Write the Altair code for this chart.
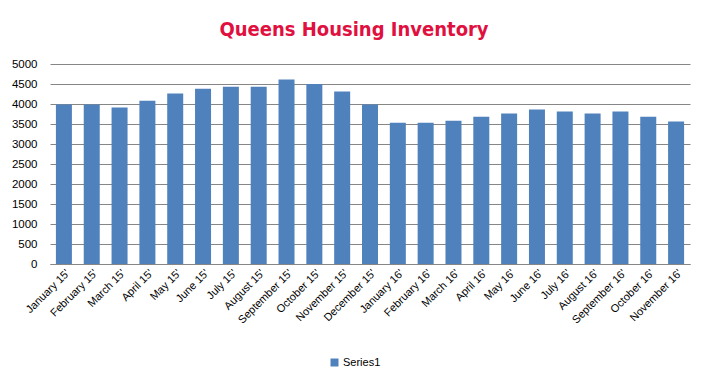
import altair as alt
import pandas as pd

months = ["January 15'", "February 15'", "March 15'", "April 15'", "May 15'", "June 15'",
          "July 15'", "August 15'", "September 15'", "October 15'", "November 15'", "December 15'",
          "January 16'", "February 16'", "March 16'", "April 16'", "May 16'", "June 16'",
          "July 16'", "August 16'", "September 16'", "October 16'", "November 16'"]
inventory = [3990, 3990, 3910, 4080, 4260, 4380, 4430, 4430, 4610, 4500, 4310, 3990,
             3530, 3530, 3580, 3680, 3760, 3860, 3810, 3760, 3810, 3680, 3560]
series = ["Series1"] * len(months)
y_ticks = [0, 500, 1000, 1500, 2000, 2500, 3000, 3500, 4000, 4500, 5000]

df = pd.DataFrame({"month": months, "inventory": inventory, "series": series})

FONT = "Liberation Sans"

chart = alt.Chart(df).mark_bar().encode(
    x=alt.X("month:N", sort=months,
            scale=alt.Scale(paddingInner=0.425, paddingOuter=0.2125),
            axis=alt.Axis(title=None, labelAngle=-45, ticks=False, labelPadding=3,
                          domainColor="#868686", labelFontSize=11, labelFont=FONT,
                          labelColor="#000000", grid=False)),
    y=alt.Y("inventory:Q", scale=alt.Scale(domain=[0, 5000], nice=False),
            axis=alt.Axis(title=None, values=y_ticks, format="d", domain=False, ticks=False,
                          labelPadding=13, gridColor="#868686", labelFontSize=11.5,
                          labelFont=FONT, labelColor="#000000")),
    color=alt.Color("series:N", scale=alt.Scale(range=["#4F81BD"]),
                    legend=alt.Legend(title=None, orient="none", legendX=279, legendY=293,
                                      symbolType="square", symbolSize=64, symbolStrokeWidth=0,
                                      labelFontSize=11, labelFont=FONT, labelColor="#000000",
                                      padding=0, labelOffset=3)),
).properties(
    width=640, height=200,
    title=alt.TitleParams("Queens Housing Inventory", font="DejaVu Sans Condensed",
                          fontSize=20, fontWeight="bold", color="#E0103F", anchor="middle",
                          frame="group", dx=-16, offset=18),
    autosize="none",
    padding={"left": 42, "top": 56, "right": 8, "bottom": 105},
).configure_view(stroke=None)

chart.save("out.html", embed_options={"renderer": "svg", "actions": False})
